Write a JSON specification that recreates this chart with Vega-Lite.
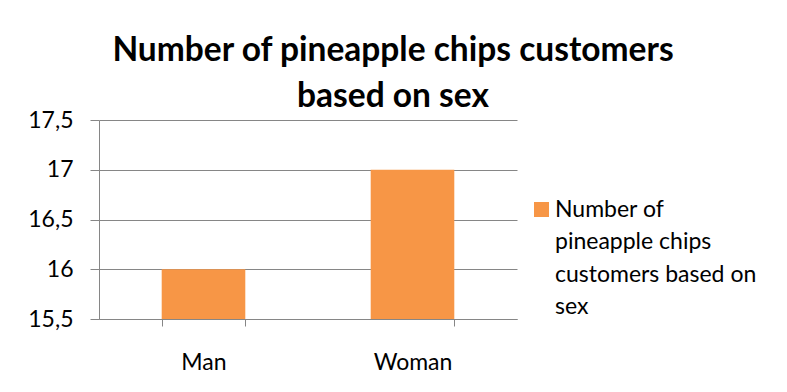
{
  "$schema": "https://vega.github.io/schema/vega-lite/v6.json",
  "width": 418,
  "height": 199,
  "autosize": "none",
  "padding": {"left": 99, "top": 120, "right": 270, "bottom": 73},
  "background": "white",
  "title": {
    "text": ["Number of pineapple chips customers", "based on sex"],
    "font": "Lato",
    "fontSize": 33.5,
    "fontWeight": "bold",
    "color": "black",
    "anchor": "middle",
    "frame": "group",
    "dx": 85,
    "dy": 9,
    "lineHeight": 46
  },
  "data": {
    "values": [
      {"sex": "Man", "customers": 16, "series": "Number of pineapple chips customers based on sex"},
      {"sex": "Woman", "customers": 17, "series": "Number of pineapple chips customers based on sex"}
    ]
  },
  "mark": {"type": "bar"},
  "encoding": {
    "x": {
      "field": "sex",
      "type": "nominal",
      "sort": null,
      "scale": {"paddingInner": 0.6, "paddingOuter": 0.3},
      "axis": {
        "title": null,
        "labelAngle": 0,
        "tickBand": "extent",
        "domainColor": "#868686",
        "tickColor": "#868686",
        "tickSize": 7,
        "labelFont": "Lato",
        "labelFontSize": 23,
        "labelColor": "black",
        "labelBaseline": "alphabetic",
        "labelPadding": 43,
        "grid": false
      }
    },
    "y": {
      "field": "customers",
      "type": "quantitative",
      "scale": {"domain": [15.5, 17.5], "zero": false, "nice": false},
      "axis": {
        "title": null,
        "values": [15.5, 16, 16.5, 17, 17.5],
        "labelExpr": "replace(toString(datum.value), '.', ',')",
        "gridColor": "#868686",
        "domainColor": "#868686",
        "tickColor": "#868686",
        "tickSize": 9,
        "labelPadding": 17,
        "labelFont": "Lato",
        "labelFontSize": 23,
        "labelColor": "black"
      }
    },
    "y2": {"datum": 15.5},
    "color": {
      "field": "series",
      "type": "nominal",
      "scale": {"range": ["#F79646"]},
      "legend": {
        "title": null,
        "orient": "none",
        "legendX": 431,
        "legendY": 78,
        "symbolType": "square",
        "symbolSize": 225,
        "symbolStrokeWidth": 0,
        "symbolOpacity": 1,
        "labelFont": "Lato",
        "labelFontSize": 23,
        "labelColor": "black",
        "labelLimit": 0,
        "labelOffset": 2,
        "labelBaseline": "top",
        "labelExpr": "['Number of', 'pineapple chips', 'customers based on', 'sex']",
        "encode": {"labels": {"update": {"lineHeight": {"value": 32.5}, "dy": {"value": -11}}}}
      }
    }
  },
  "config": {"view": {"stroke": null}}
}
